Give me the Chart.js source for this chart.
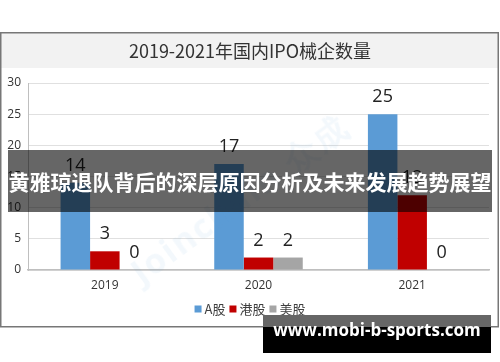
<!DOCTYPE html>
<html><head><meta charset="utf-8">
<script src="https://cdn.jsdelivr.net/npm/chart.js@4"></script>
<style>
html,body{margin:0;padding:0;background:#fff;width:500px;height:362px;overflow:hidden;}
#wrap{position:relative;width:500px;height:362px;}
canvas{position:absolute;left:0;top:0;}
#wm{position:absolute;left:110px;top:175px;width:260px;font:bold 34px "Open Sans",sans-serif;color:rgba(91,155,213,0.07);transform:rotate(-36deg);transform-origin:center;white-space:nowrap;letter-spacing:2px;}
#banner{position:absolute;left:8px;top:150px;width:484px;height:62px;background:rgba(0,0,0,0.6);color:#fff;font:bold 21px "Noto Sans CJK SC",sans-serif;line-height:62px;text-align:center;white-space:nowrap;overflow:hidden;}
#site1{position:absolute;left:263px;top:315px;width:228px;height:12px;background:#666;}
#site2{position:absolute;left:263px;top:327px;width:228px;height:26px;background:#000;}
#sitet{position:absolute;left:263px;top:318px;width:228px;height:36px;line-height:36px;text-align:center;color:#fff;font:bold 17px "Open Sans",sans-serif;white-space:nowrap;}
</style></head>
<body><div id="wrap"><canvas id="c" width="500" height="362"></canvas>
<div id="wm">Joinchain.众成</div>
<div id="banner">黄雅琼退队背后的深层原因分析及未来发展趋势展望</div>
<div id="site1"></div><div id="site2"></div><div id="sitet">www.mobi-b-sports.com</div>
</div>
<script>
const titleText = "2019-2021年国内IPO械企数量";
const categories = ["2019", "2020", "2021"];
const seriesNames = ["A股", "港股", "美股"];
const aShares = [14, 17, 25];
const hkShares = [3, 2, 12];
const usShares = [0, 2, 0];
const seriesColors = ["#5B9BD5", "#C00000", "#A5A5A5"];
const yTicks = [0, 5, 10, 15, 20, 25, 30];

const frame = {
  id: 'frame',
  beforeDraw(chart) {
    const ctx = chart.ctx;
    ctx.save();
    ctx.fillStyle = '#fff';
    ctx.fillRect(0, 0, 500, 362);
    ctx.fillStyle = '#f2f2f2';
    ctx.fillRect(1, 33, 497, 35);
    ctx.strokeStyle = '#777';
    ctx.lineWidth = 1.5;
    ctx.strokeRect(0.75, 32.75, 497.5, 294);
    ctx.fillStyle = '#333';
    ctx.font = '18px "Noto Sans CJK SC", sans-serif';
    ctx.textAlign = 'center';
    ctx.textBaseline = 'middle';
    ctx.fillText(titleText, 250, 51);
    ctx.restore();
  },
  afterDatasetsDraw(chart) {
    const ctx = chart.ctx;
    ctx.save();
    ctx.fillStyle = '#222';
    ctx.font = '18px "Open Sans", sans-serif';
    ctx.textAlign = 'center';
    ctx.textBaseline = 'middle';
    chart.data.datasets.forEach((ds, i) => {
      chart.getDatasetMeta(i).data.forEach((bar, j) => {
        ctx.fillText(String(ds.data[j]), bar.x, bar.y - 17);
      });
    });
    // legend
    ctx.font = '13px "Noto Sans CJK SC", sans-serif';
    ctx.textAlign = 'left';
    const box = 7, gap = 3, itemGap = 4;
    const widths = seriesNames.map(n => box + gap + ctx.measureText(n).width);
    const total = widths.reduce((a, b) => a + b, 0) + itemGap * (seriesNames.length - 1);
    let x = 250 - total / 2;
    const y = 309;
    seriesNames.forEach((n, i) => {
      ctx.fillStyle = seriesColors[i];
      ctx.fillRect(x, y - 3.5, box, box);
      ctx.fillStyle = '#404040';
      ctx.fillText(n, x + box + gap, y);
      x += widths[i] + itemGap;
    });
    ctx.restore();
  }
};

new Chart(document.getElementById('c'), {
  type: 'bar',
  data: {
    labels: categories,
    datasets: [
      { label: seriesNames[0], data: aShares, backgroundColor: seriesColors[0] },
      { label: seriesNames[1], data: hkShares, backgroundColor: seriesColors[1] },
      { label: seriesNames[2], data: usShares, backgroundColor: seriesColors[2] }
    ]
  },
  options: {
    responsive: false,
    animation: false,
    events: [],
    layout: { padding: { left: 0, right: 11, top: 83, bottom: 61 } },
    datasets: { bar: { categoryPercentage: 0.576, barPercentage: 1 } },
    plugins: { legend: { display: false }, title: { display: false }, tooltip: { enabled: false } },
    scales: {
      x: {
        grid: { display: false, drawTicks: false },
        border: { color: '#bfbfbf', width: 1.5 },
        ticks: { color: '#333', font: { size: 12, family: '"Open Sans", sans-serif' }, padding: 8 },
        afterFit(s) { s.height = 31; }
      },
      y: {
        min: 0, max: 30,
        afterBuildTicks(s) { s.ticks = yTicks.map(v => ({ value: v })); },
        grid: { color: '#e0e0e0', lineWidth: 1, drawTicks: false },
        border: { color: '#bfbfbf', width: 1 },
        ticks: { color: '#333', font: { size: 12, family: '"Open Sans", sans-serif' }, padding: 7 },
        afterFit(s) { s.width = 28; }
      }
    }
  },
  plugins: [frame]
});
</script></body></html>
